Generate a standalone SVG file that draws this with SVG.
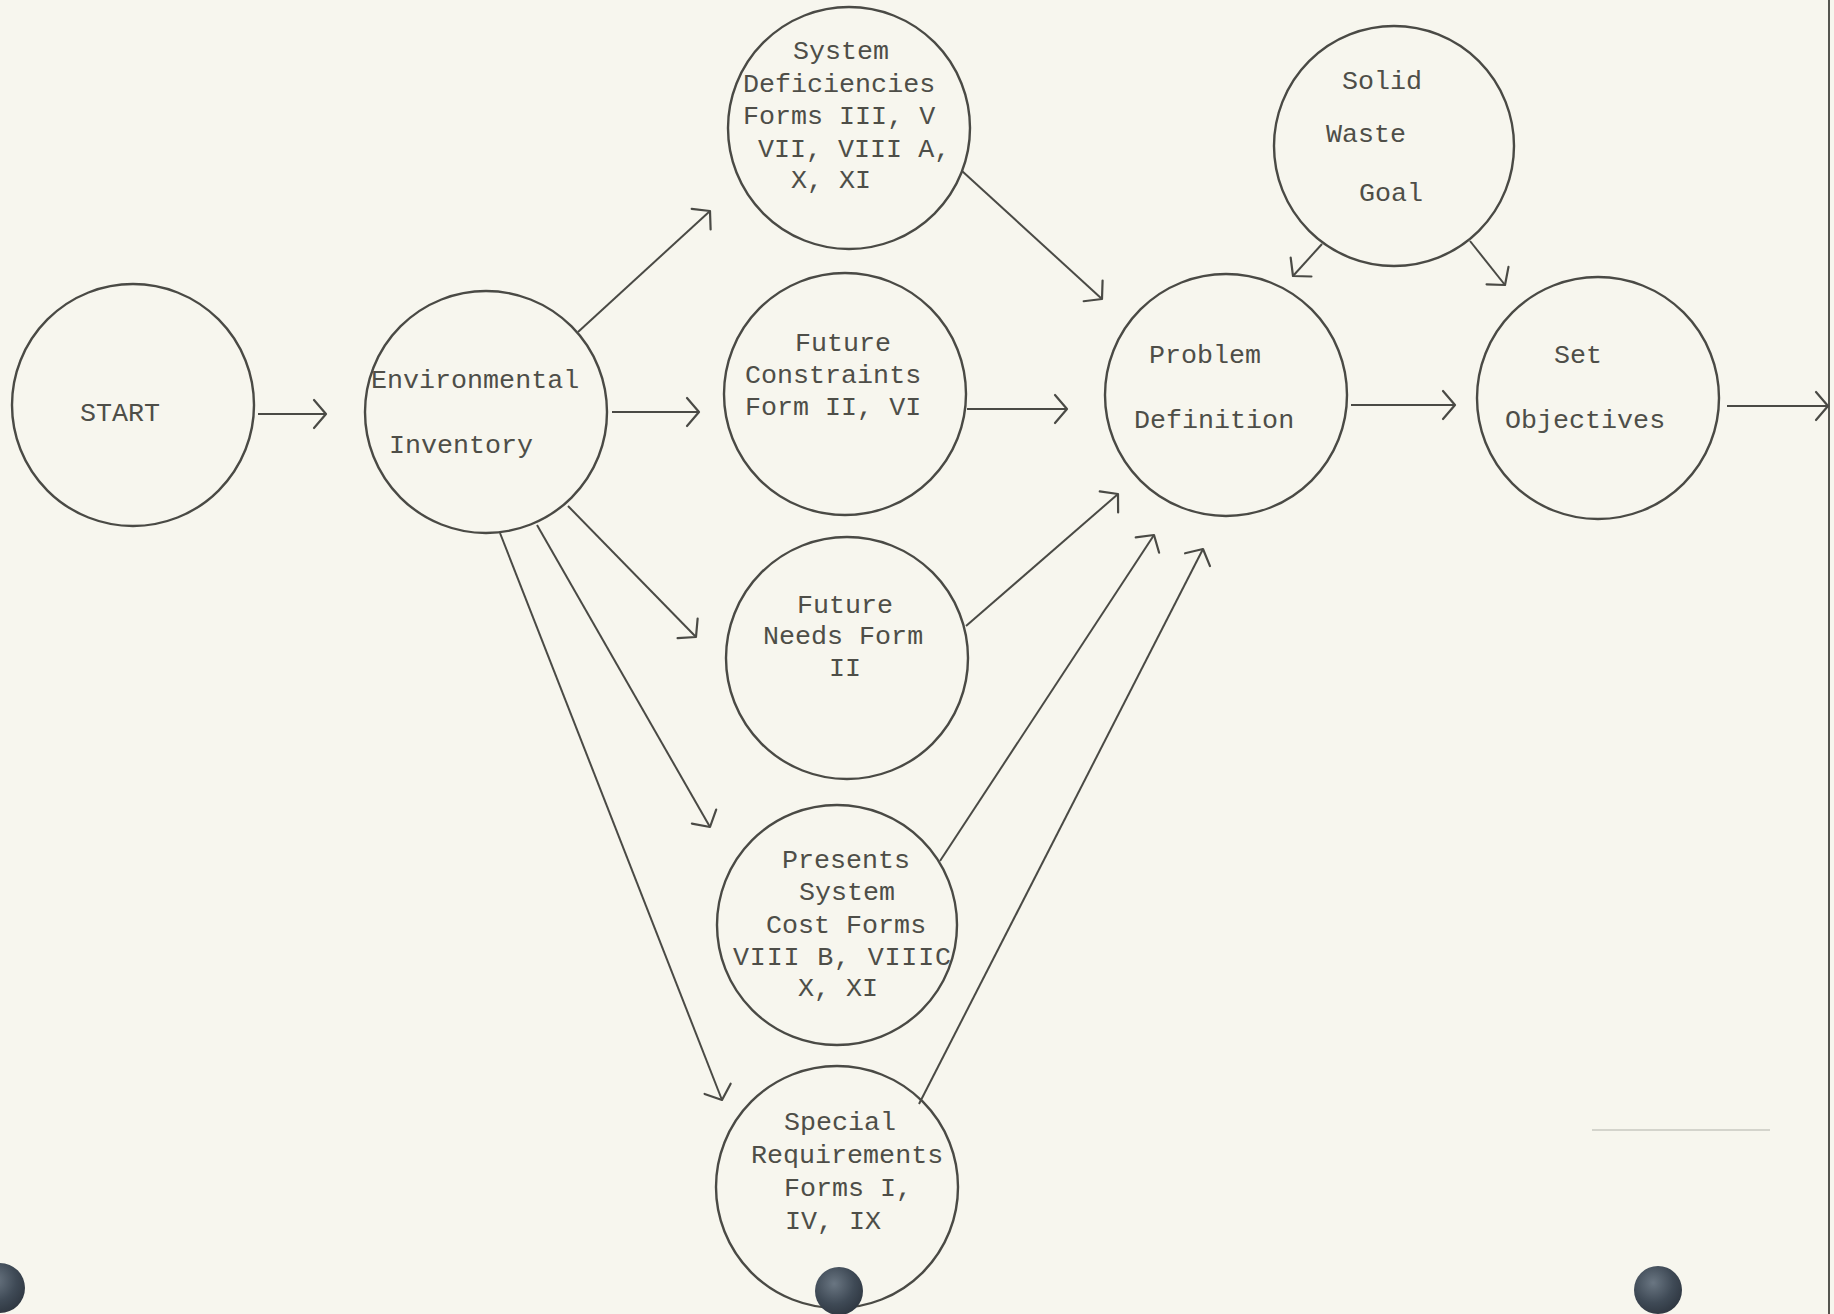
<svg xmlns="http://www.w3.org/2000/svg" width="1834" height="1314" viewBox="0 0 1834 1314">
<defs>
<marker id="ah" markerUnits="userSpaceOnUse" markerWidth="40" markerHeight="40" viewBox="-20 -20 40 40" refX="0" refY="0" orient="auto">
<path d="M-12,-14 L0,0 L-12,14" fill="none" stroke="#4a4a45" stroke-width="2.2" stroke-linecap="round" stroke-linejoin="round"/>
</marker>
<radialGradient id="hole" cx="0.4" cy="0.35" r="0.7">
<stop offset="0" stop-color="#6a7682"/>
<stop offset="0.6" stop-color="#3f4a56"/>
<stop offset="1" stop-color="#2e3640"/>
</radialGradient>
<style>
.node circle{fill:none;stroke:#4a4a45;stroke-width:2.4}
.node text{font-family:"Liberation Mono","Courier New",monospace;font-size:26.7px;fill:#4e4e48}
.conn line{stroke:#4a4a45;stroke-width:2;marker-end:url(#ah)}
</style>
</defs>
<rect x="0" y="0" width="1834" height="1314" fill="#f7f6ee"/>
<line x1="1829" y1="0" x2="1829" y2="1314" stroke="#55554f" stroke-width="2"/>
<line x1="1592" y1="1130" x2="1770" y2="1130" stroke="#c9c8c0" stroke-width="1.5"/>

<g id="connectors" class="conn">
<line x1="258" y1="414" x2="326" y2="414"/>
<line x1="578" y1="332" x2="710" y2="211"/>
<line x1="612" y1="412" x2="699" y2="412"/>
<line x1="568" y1="506" x2="696" y2="637"/>
<line x1="537" y1="525" x2="710" y2="827"/>
<line x1="500" y1="533" x2="722" y2="1100"/>
<line x1="962" y1="171" x2="1102" y2="299"/>
<line x1="967" y1="409" x2="1067" y2="409"/>
<line x1="966" y1="626" x2="1118" y2="494"/>
<line x1="940" y1="861" x2="1154" y2="535"/>
<line x1="919" y1="1104" x2="1203" y2="549"/>
<line x1="1322" y1="244" x2="1293" y2="276"/>
<line x1="1470" y1="241" x2="1505" y2="285"/>
<line x1="1351" y1="405" x2="1455" y2="405"/>
<line x1="1727" y1="406" x2="1828" y2="406"/>
</g>

<g id="start" class="node">
<circle cx="133" cy="405" r="121"/>
<text x="80" y="421">START</text>
</g>
<g id="environmental-inventory" class="node">
<circle cx="486" cy="412" r="121"/>
<text x="371" y="388">Environmental</text>
<text x="389" y="453">Inventory</text>
</g>
<g id="system-deficiencies" class="node">
<circle cx="849" cy="128" r="121"/>
<text x="793" y="59">System</text>
<text x="743" y="92">Deficiencies</text>
<text x="743" y="124">Forms III, V</text>
<text x="758" y="157">VII, VIII A,</text>
<text x="791" y="188">X, XI</text>
</g>
<g id="future-constraints" class="node">
<circle cx="845" cy="394" r="121"/>
<text x="795" y="351">Future</text>
<text x="745" y="383">Constraints</text>
<text x="745" y="415">Form II, VI</text>
</g>
<g id="future-needs" class="node">
<circle cx="847" cy="658" r="121"/>
<text x="797" y="613">Future</text>
<text x="763" y="644">Needs Form</text>
<text x="829" y="676">II</text>
</g>
<g id="present-system-cost" class="node">
<circle cx="837" cy="925" r="120"/>
<text x="782" y="868">Presents</text>
<text x="799" y="900">System</text>
<text x="766" y="933">Cost Forms</text>
<text x="733" y="965" textLength="218" lengthAdjust="spacing">VIII B, VIIIC</text>
<text x="798" y="996">X, XI</text>
</g>
<g id="special-requirements" class="node">
<circle cx="837" cy="1187" r="121"/>
<text x="784" y="1130">Special</text>
<text x="751" y="1163">Requirements</text>
<text x="784" y="1196">Forms I,</text>
<text x="785" y="1229">IV, IX</text>
</g>
<g id="problem-definition" class="node">
<circle cx="1226" cy="395" r="121"/>
<text x="1149" y="363">Problem</text>
<text x="1134" y="428">Definition</text>
</g>
<g id="solid-waste-goal" class="node">
<circle cx="1394" cy="146" r="120"/>
<text x="1342" y="89">Solid</text>
<text x="1326" y="142">Waste</text>
<text x="1359" y="201">Goal</text>
</g>
<g id="set-objectives" class="node">
<circle cx="1598" cy="398" r="121"/>
<text x="1554" y="363">Set</text>
<text x="1505" y="428">Objectives</text>
</g>

<circle cx="0" cy="1288" r="25" fill="url(#hole)"/>
<circle cx="839" cy="1291" r="24" fill="url(#hole)"/>
<circle cx="1658" cy="1290" r="24" fill="url(#hole)"/>
</svg>
